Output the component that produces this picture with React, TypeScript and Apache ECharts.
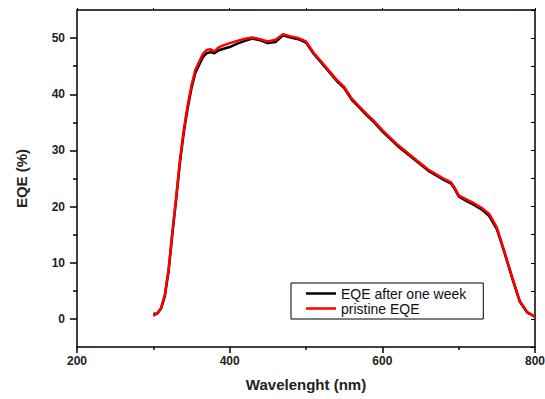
import React, { useEffect, useRef } from "react";
import * as echarts from "echarts";

const wavelengths = [300, 305, 310, 315, 320, 325, 330, 335, 340, 345, 350, 355, 360, 365, 370, 375, 380, 385, 390, 400, 410, 420, 430, 440, 450, 460, 470, 480, 490, 500, 510, 520, 530, 540, 550, 560, 570, 580, 590, 600, 620, 640, 660, 680, 690, 695, 700, 710, 720, 730, 740, 750, 760, 770, 780, 790, 800];

const pristine = [0.5, 1.0, 1.9, 4.3, 8.9, 15.6, 21.8, 28.5, 33.8, 38.0, 41.6, 44.3, 45.8, 47.2, 47.9, 48.0, 47.6, 48.3, 48.6, 49.1, 49.5, 49.9, 50.1, 49.8, 49.4, 49.7, 50.7, 50.3, 50.0, 49.4, 47.4, 45.8, 44.2, 42.6, 41.3, 39.2, 37.8, 36.4, 35.1, 33.6, 31.0, 28.8, 26.6, 25.0, 24.3, 23.3, 22.0, 21.3, 20.6, 19.8, 18.7, 16.3, 12.0, 7.5, 3.2, 1.2, 0.4];

const afterWeek = [0.9, 0.9, 1.8, 4.0, 8.5, 15.2, 21.4, 28.0, 33.3, 37.5, 41.1, 43.8, 45.2, 46.6, 47.3, 47.5, 47.3, 47.8, 48.0, 48.4, 49.0, 49.5, 49.9, 49.6, 49.1, 49.3, 50.5, 50.1, 49.8, 49.2, 47.2, 45.6, 44.0, 42.4, 41.1, 39.0, 37.6, 36.2, 34.9, 33.4, 30.8, 28.6, 26.4, 24.8, 24.1, 23.1, 21.8, 21.0, 20.3, 19.5, 18.3, 16.0, 11.8, 7.3, 3.1, 1.1, 0.4];

const xLabels = [200, 400, 600, 800];
const yLabels = [0, 10, 20, 30, 40, 50];
const yMinor = [5, 15, 25, 35, 45];
const seriesNames = ["EQE after one week", "pristine EQE"];

const FONT = "'Liberation Sans', Arial, sans-serif";

export default function App() {
  const ref = useRef<HTMLDivElement>(null);
  useEffect(() => {
    if (!ref.current) return;
    const chart = echarts.init(ref.current, null, { renderer: "svg" });
    const black = wavelengths.map((w, i) => [w, afterWeek[i]]);
    const red = wavelengths.map((w, i) => [w, pristine[i]]);
    const axisLine = { show: true, onZero: false, lineStyle: { color: "#000", width: 1.5 } };
    chart.setOption({
      animation: false,
      backgroundColor: "#fff",
      grid: { left: 77, right: 10, top: 10, bottom: 52, containLabel: false, outerBoundsMode: "none" },
      xAxis: [
        {
          type: "value",
          min: 200,
          max: 800,
          interval: 200,
          position: "bottom",
          axisLine,
          axisTick: { show: true, length: 6, lineStyle: { color: "#000", width: 1.5 } },
          minorTick: { show: true, splitNumber: 2, length: 3, lineStyle: { color: "#000", width: 1.5 } },
          splitLine: { show: false },
          axisLabel: {
            margin: 8,
            color: "#222",
            fontFamily: FONT,
            fontWeight: "bold",
            fontSize: 12,
            formatter: (v: number) => (xLabels.includes(v) ? String(v) : ""),
          },
          name: "Wavelenght (nm)",
          nameLocation: "middle",
          nameGap: 30,
          nameTextStyle: { color: "#222", fontFamily: FONT, fontWeight: "bold", fontSize: 15 },
        },
        {
          type: "value",
          min: 200,
          max: 800,
          interval: 100,
          position: "top",
          axisLine,
          axisTick: { show: true, length: 2, lineStyle: { color: "#000", width: 1 } },
          axisLabel: { show: false },
          splitLine: { show: false },
        },
      ],
      yAxis: [
        {
          type: "value",
          min: -5,
          max: 55,
          interval: 5,
          position: "left",
          axisLine,
          axisTick: { show: true, length: 7, customValues: yLabels, lineStyle: { color: "#000", width: 1.5 } },
          splitLine: { show: false },
          axisLabel: {
            customValues: yLabels,
            margin: 12,
            color: "#222",
            fontFamily: FONT,
            fontWeight: "bold",
            fontSize: 12,
            formatter: (v: number) => (yLabels.includes(v) ? String(v) : ""),
          },
          name: "EQE (%)",
          nameLocation: "middle",
          nameRotate: 90,
          nameGap: 48,
          nameTextStyle: { color: "#222", fontFamily: FONT, fontWeight: "bold", fontSize: 15 },
        },
        {
          type: "value",
          min: -5,
          max: 55,
          interval: 5,
          position: "left",
          offset: 0,
          axisLine: { show: false, onZero: false },
          axisTick: { show: true, length: 4, customValues: yMinor, lineStyle: { color: "#000", width: 1.5 } },
          axisLabel: { show: false },
          splitLine: { show: false },
        },
        {
          type: "value",
          min: -5,
          max: 55,
          interval: 5,
          position: "right",
          offset: 0,
          axisLine,
          axisTick: { show: true, inside: true, length: 4, lineStyle: { color: "#000", width: 1 } },
          axisLabel: { show: false },
          splitLine: { show: false },
        },
      ],
      legend: {
        orient: "vertical",
        left: 291,
        top: 283,
        padding: [3, 17, 3, 15],
        itemGap: 0,
        itemWidth: 30,
        itemHeight: 2.5,
        icon: "rect",
        borderColor: "#000",
        borderWidth: 1,
        borderRadius: 0,
        backgroundColor: "#fff",
        data: seriesNames,
        textStyle: { color: "#111", fontFamily: FONT, fontSize: 14, lineHeight: 15 },
      },
      series: [
        {
          name: seriesNames[0],
          type: "line",
          data: black,
          showSymbol: false,
          symbol: "none",
          color: "#000",
          lineStyle: { color: "#000", width: 2.5 },
          xAxisIndex: 0,
          yAxisIndex: 0,
        },
        {
          name: seriesNames[1],
          type: "line",
          data: red,
          showSymbol: false,
          symbol: "none",
          color: "#ff0000",
          lineStyle: { color: "#ff0000", width: 2.5 },
          xAxisIndex: 0,
          yAxisIndex: 0,
        },
      ],
    });
    return () => chart.dispose();
  }, []);
  return <div ref={ref} style={{ width: 545, height: 399, position: "absolute", left: 0, top: 0 }} />;
}
